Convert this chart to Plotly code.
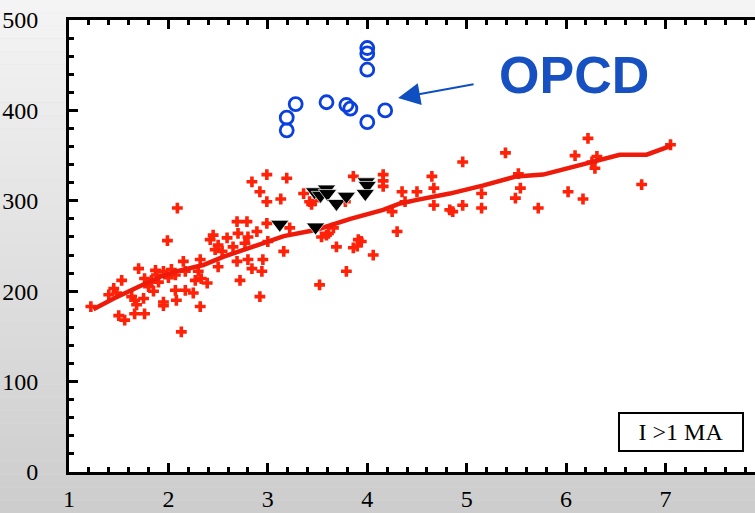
import plotly.graph_objects as go

# ---- data ----
red_x = [1.22, 1.40, 1.45, 1.48, 1.53, 1.50, 1.56, 1.63, 1.66, 1.66, 1.68, 1.70, 1.75, 1.76, 1.76,
         1.80, 1.83, 1.85, 1.87, 1.88, 1.90, 1.95, 1.95, 1.95, 1.99, 2.00, 2.03, 2.07, 2.07, 2.08,
         2.09, 2.13, 2.15, 2.17, 2.17, 2.25, 2.27, 2.30, 2.32, 2.32, 2.33, 2.39,
         2.42, 2.45, 2.47, 2.50, 2.54, 2.59, 2.65, 2.69, 2.70, 2.77, 2.79, 2.80, 2.84, 2.89,
         2.92, 2.99, 2.99, 2.99, 3.00, 2.50, 2.69, 2.80, 2.84, 2.95, 2.94, 2.72, 2.92,
         3.13, 3.19, 3.16, 3.22, 3.36, 3.42, 3.44, 3.47, 3.52, 3.54, 3.59, 3.61, 3.66, 3.69,
         3.78, 3.79, 3.86, 3.86, 3.91, 3.94, 3.90, 4.06, 4.16, 4.16, 4.16, 4.25, 4.30, 4.35, 4.38,
         4.50, 4.65, 4.67, 4.67, 4.83, 4.86, 4.96, 4.96, 5.15, 5.15, 5.39, 5.49, 5.52, 5.54,
         5.72, 6.02, 6.09, 6.17, 6.22, 6.26, 6.29, 6.31, 6.76, 7.05]
red_y = [183, 196, 203, 198, 212, 173, 168, 194, 190, 175, 185, 225, 192, 175, 214,
         205, 212, 200, 223, 218, 210, 188, 184, 222, 256, 215, 224, 201, 218, 190,
         292, 155, 233, 201, 222, 198, 212, 222, 235, 183, 214, 209,
         257, 262, 246, 251, 244, 259, 249, 277, 264, 253, 277, 260, 321, 266,
         310, 329, 299, 275, 255, 227, 233, 235, 225, 235, 222, 212, 194,
         302, 325, 244, 270, 308, 299, 296, 300, 207, 260, 262, 264, 270, 249,
         299, 222, 327, 248, 257, 255, 250, 240, 329, 322, 316, 288, 266, 310, 299,
         310, 327, 314, 295, 290, 288, 343, 295, 308, 292, 353, 303, 330, 314,
         292, 310, 350, 302, 369, 343, 336, 349, 318, 362]

line_x = [1.245, 1.45, 1.70, 1.92, 2.08, 2.35, 2.55, 2.82, 3.16, 3.49, 3.83, 4.16, 4.33,
          4.50, 4.83, 5.17, 5.50, 5.77, 6.01, 6.24, 6.54, 6.81, 7.06]
line_y = [180, 192, 205, 216, 222, 229, 238, 248, 261, 268, 280, 290, 297,
          301, 308, 317, 327, 329, 336, 343, 351, 351, 361]

tri_x = [3.12, 3.48, 3.47, 3.53, 3.59, 3.60, 3.69, 3.79, 3.99, 4.00, 3.98]
tri_y = [274, 271, 310, 306, 313, 308, 297, 305, 321, 317, 308]

opcd_x = [4.00, 4.00, 4.00, 3.28, 3.59, 3.19, 3.19, 3.79, 3.83, 4.00, 4.18]
opcd_y = [469, 463, 445, 407, 409, 392, 378, 406, 402, 387, 400]

x_ticks = [1, 2, 3, 4, 5, 6, 7]
y_ticks = [0, 100, 200, 300, 400, 500]

# ---- figure ----
fig = go.Figure()

fig.add_trace(go.Scatter(x=red_x, y=red_y, mode="markers",
                         marker=dict(symbol="cross", size=9, color="#ff2208", line=dict(width=0)),
                         showlegend=False, hoverinfo="skip"))
fig.add_trace(go.Scatter(x=line_x, y=line_y, mode="lines",
                         line=dict(color="#ee1a0a", width=4.5),
                         showlegend=False, hoverinfo="skip"))
fig.add_trace(go.Scatter(x=tri_x, y=tri_y, mode="markers",
                         marker=dict(symbol="triangle-down", size=16, color="black",
                                     line=dict(color="white", width=0.7)),
                         showlegend=False, hoverinfo="skip"))
fig.add_trace(go.Scatter(x=opcd_x, y=opcd_y, mode="markers",
                         marker=dict(symbol="circle-open", size=13, color="#0a3fe0",
                                     line=dict(width=2.8, color="#0a3fe0")),
                         showlegend=False, hoverinfo="skip"))

# gradient background via stripes (paper coords extended into margins)
W, H = 755, 513
ml, mr, mt, mb = 69, 0, 20, 41
pw, ph = W - ml - mr, H - mt - mb
n = 40
shapes = []
top_c, bot_c = 245, 204
for i in range(n):
    y0 = 1 + mt / ph - (i + 1) * (H / ph) / n
    y1 = 1 + mt / ph - i * (H / ph) / n
    c = round(top_c + (bot_c - top_c) * (i + 0.5) / n)
    shapes.append(dict(type="rect", xref="paper", yref="paper",
                       x0=-ml / pw, x1=1.0, y0=y0, y1=y1,
                       fillcolor=f"rgb({c},{c},{c})", line=dict(width=0), layer="below"))
shapes.append(dict(type="rect", xref="x domain", yref="y domain", x0=0, x1=1, y0=0, y1=1,
                   fillcolor="white", line=dict(width=0), layer="below"))

fig.update_layout(
    width=W, height=H,
    margin=dict(l=ml, r=mr, t=mt, b=mb, pad=0, autoexpand=False),
    paper_bgcolor="rgb(225,225,225)",
    plot_bgcolor="white",
    shapes=shapes,
    font=dict(family="Liberation Serif, Times New Roman, serif", size=24, color="black"),
    xaxis=dict(range=[1, 7.9], tickvals=x_ticks, ticktext=[str(v) for v in x_ticks],
               showgrid=False, zeroline=False, showline=True, linewidth=3, linecolor="black",
               mirror="ticks", ticks="inside", ticklen=9, tickwidth=3, tickcolor="black",
               minor=dict(dtick=0.2, tick0=1, ticks="inside", ticklen=5, tickwidth=2.5,
                          tickcolor="black", showgrid=False),
               ticklabelstandoff=3, automargin=False),
    yaxis=dict(range=[0, 500], tickvals=y_ticks, ticktext=[str(v) for v in y_ticks],
               showgrid=False, zeroline=False, showline=True, linewidth=3, linecolor="black",
               ticks="inside", ticklen=9, tickwidth=3, tickcolor="black",
               minor=dict(dtick=20, tick0=0, ticks="inside", ticklen=5, tickwidth=2.5,
                          tickcolor="black", showgrid=False),
               ticklabelstandoff=23, automargin=False),
)

fig.add_annotation(x=4.31, y=413.7, xref="x", yref="y", ax=77, ay=-14, axref="pixel", ayref="pixel",
                   text="", showarrow=True, arrowhead=2, arrowsize=2.2, arrowwidth=2,
                   arrowcolor="#0f4fc0")
fig.add_annotation(x=(574 - ml) / pw, y=1 - (75 - mt) / ph, xref="paper", yref="paper",
                   xanchor="center", yanchor="middle",
                   text="<b>OPCD</b>", showarrow=False,
                   font=dict(family="Liberation Sans, Arial, sans-serif", size=52, color="#1750c0"))
fig.add_annotation(x=7.157, y=44.2, xref="x", yref="y", text="I >1 MA", showarrow=False,
                   xanchor="center", yanchor="middle",
                   font=dict(family="Liberation Serif, Times New Roman, serif", size=24, color="black"),
                   bordercolor="black", borderwidth=2, borderpad=0, bgcolor="white",
                   width=122, height=36)

fig.write_html("out.html", config={"displayModeBar": False},
               post_script="document.body.style.margin='0';document.body.style.padding='0';")
